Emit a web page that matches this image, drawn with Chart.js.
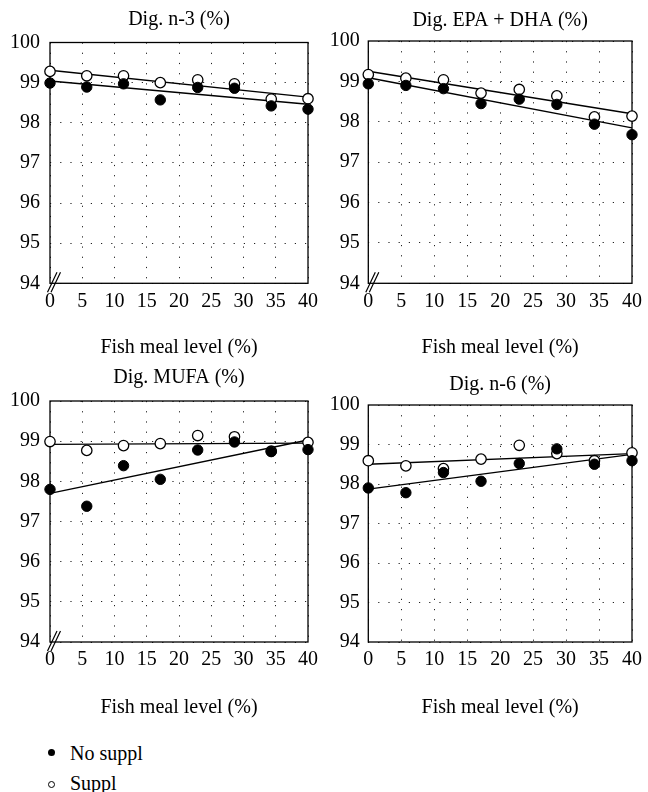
<!DOCTYPE html>
<html>
<head>
<meta charset="utf-8">
<script src="https://cdn.jsdelivr.net/npm/chart.js@4.4.1/dist/chart.umd.min.js"></script>
<style>
  html, body { margin: 0; padding: 0; background: #fff; }
  body { width: 648px; height: 792px; position: relative; overflow: hidden; font-family: 'Liberation Serif', serif; }
  .panel { position: absolute; }
  .lg-text { position: absolute; font-size: 20px; line-height: 24px; color: #000; white-space: nowrap; }
  .dot { position: absolute; width: 7px; height: 7px; border-radius: 50%; box-sizing: border-box; }
</style>
</head>
<body>
<div class="panel" id="p1" style="left:0px;top:0px;width:324px;height:360px;"><canvas id="c1"></canvas></div>
<div class="panel" id="p2" style="left:324px;top:0px;width:324px;height:360px;"><canvas id="c2"></canvas></div>
<div class="panel" id="p3" style="left:0px;top:360px;width:324px;height:360px;"><canvas id="c3"></canvas></div>
<div class="panel" id="p4" style="left:324px;top:360px;width:324px;height:360px;"><canvas id="c4"></canvas></div>

<span class="dot" style="left:48px;top:749px;background:#000;"></span>
<span class="lg-text" style="left:70px;top:741px;">No suppl</span>
<span class="dot" style="left:48px;top:780.5px;border:1px solid #000;background:#fff;"></span>
<span class="lg-text" style="left:70px;top:771px;">Suppl</span>

<script>
// ---- Data ----
const xLevels = [0, 5.7, 11.4, 17.1, 22.9, 28.6, 34.3, 40];
const fitX = [0, 40];

const panelTitles = ['Dig. n-3 (%)', 'Dig. EPA + DHA (%)', 'Dig. MUFA (%)', 'Dig. n-6 (%)'];
const xAxisTitle = 'Fish meal level (%)';
const seriesNames = ['No suppl', 'Suppl'];
const xTickValues = [0, 5, 10, 15, 20, 25, 30, 35, 40];
const yTickValues = [94, 95, 96, 97, 98, 99, 100];

const n3No   = [98.99, 98.89, 98.97, 98.57, 98.88, 98.86, 98.42, 98.34];
const n3Sup  = [99.28, 99.17, 99.17, 99.00, 99.07, 98.97, 98.59, 98.60];
const n3FitNo  = [99.04, 98.46];
const n3FitSup = [99.31, 98.64];

const epaNo  = [98.94, 98.90, 98.82, 98.45, 98.56, 98.43, 97.94, 97.68];
const epaSup = [99.17, 99.08, 99.04, 98.71, 98.80, 98.64, 98.12, 98.14];
const epaFitNo  = [99.09, 97.85];
const epaFitSup = [99.25, 98.20];

const mufaNo  = [97.80, 97.38, 98.39, 98.05, 98.78, 98.98, 98.74, 98.79];
const mufaSup = [98.99, 98.77, 98.89, 98.94, 99.14, 99.11, 98.75, 98.97];
const mufaFitNo  = [97.70, 99.03];
const mufaFitSup = [98.92, 98.95];

const n6No  = [97.90, 97.78, 98.29, 98.07, 98.52, 98.89, 98.50, 98.59];
const n6Sup = [98.59, 98.46, 98.39, 98.63, 98.98, 98.77, 98.59, 98.79];
const n6FitNo  = [97.87, 98.75];
const n6FitSup = [98.50, 98.77];

// ---- Setup ----
Chart.defaults.font.family = "'Liberation Serif', 'Times New Roman', serif";
Chart.defaults.font.size = 20;
Chart.defaults.color = '#000';

const toPts = (xs, ys) => xs.map((x, i) => ({ x: x, y: ys[i] }));

// box around plot area
const boxPlugin = {
  id: 'plotBox',
  beforeDatasetsDraw(chart) {
    const a = chart.chartArea, ctx = chart.ctx;
    ctx.save();
    ctx.strokeStyle = '#000';
    ctx.lineWidth = 1.3;
    ctx.setLineDash([]);
    ctx.strokeRect(a.left, a.top, a.right - a.left, a.bottom - a.top);
    ctx.restore();
  }
};
// axis break "//" marks at the bottom-left corner
const breakPlugin = {
  id: 'axisBreak',
  afterDraw(chart, args, opts) {
    if (!opts || !opts.show) return;
    const a = chart.chartArea, ctx = chart.ctx;
    const x0 = a.left, y0 = a.bottom;
    ctx.save();
    ctx.strokeStyle = '#000';
    ctx.lineWidth = 1.2;
    ctx.beginPath();
    ctx.moveTo(x0 - 2.5, y0 + 9); ctx.lineTo(x0 + 7, y0 - 11);
    ctx.moveTo(x0 + 1, y0 + 9); ctx.lineTo(x0 + 10.5, y0 - 11);
    ctx.stroke();
    ctx.restore();
  }
};

function makePanel(canvasId, cfg) {
  // Chart.js draws dataset 0 on top, so the filled series comes first
  const datasets = [
    { label: seriesNames[0], data: toPts(xLevels, cfg.no), showLine: false, pointRadius: 5.2, pointBackgroundColor: '#000', pointBorderColor: '#000', pointBorderWidth: 1, clip: false },
    { label: seriesNames[1], data: toPts(xLevels, cfg.sup), showLine: false, pointRadius: 5.2, pointBackgroundColor: '#fff', pointBorderColor: '#000', pointBorderWidth: 1.3, clip: false },
    { label: seriesNames[0] + ' fit', data: toPts(fitX, cfg.fitNo), showLine: true, borderColor: '#000', borderWidth: 1.4, pointRadius: 0, clip: false },
    { label: seriesNames[1] + ' fit', data: toPts(fitX, cfg.fitSup), showLine: true, borderColor: '#000', borderWidth: 1.4, pointRadius: 0, clip: false }
  ];
  return new Chart(document.getElementById(canvasId), {
    type: 'scatter',
    data: { datasets },
    options: {
      responsive: true,
      maintainAspectRatio: false,
      animation: false,
      events: [],
      layout: { padding: { left: 0, top: 0, right: cfg.padRight, bottom: 0 } },
      plugins: {
        legend: { display: false },
        tooltip: { enabled: false },
        title: {
          display: true,
          text: cfg.title,
          fullSize: false,
          font: { size: 20, weight: 'normal' },
          color: '#000',
          padding: { top: cfg.titleTop, bottom: cfg.titleBottom }
        },
        axisBreak: { show: cfg.showBreak }
      },
      scales: {
        x: {
          type: 'linear',
          min: 0, max: 40,
          afterBuildTicks: (s) => { s.ticks = xTickValues.map(v => ({ value: v })); },
          ticks: { padding: 6, maxRotation: 0, autoSkip: false, color: '#000', font: { size: 20 } },
          grid: { drawTicks: false, color: '#222', lineWidth: 1 },
          border: { display: false, dash: [1.2, 9] },
          title: { display: true, text: xAxisTitle, color: '#000', font: { size: 20 }, padding: { top: 0, bottom: 0 } },
          afterFit: (s) => { s.height = cfg.xH; }
        },
        y: {
          type: 'linear',
          min: 94, max: 100,
          afterBuildTicks: (s) => { s.ticks = yTickValues.map(v => ({ value: v })); },
          ticks: { padding: cfg.yPad, color: '#000', font: { size: 20 } },
          grid: { drawTicks: false, color: '#222', lineWidth: 1 },
          border: { display: false, dash: [1.2, 9] },
          afterFit: (s) => { s.width = cfg.yW; }
        }
      }
    },
    plugins: [boxPlugin, breakPlugin]
  });
}

makePanel('c1', { title: panelTitles[0], no: n3No, sup: n3Sup, fitNo: n3FitNo, fitSup: n3FitSup,
  yW: 50, padRight: 16, titleTop: 7.8, titleBottom: 10.7, xH: 76.7, yPad: 10, showBreak: true });
makePanel('c2', { title: panelTitles[1], no: epaNo, sup: epaSup, fitNo: epaFitNo, fitSup: epaFitSup,
  yW: 44.3, padRight: 11.5, titleTop: 8.4, titleBottom: 8.6, xH: 76.7, yPad: 8.5, showBreak: true });
makePanel('c3', { title: panelTitles[2], no: mufaNo, sup: mufaSup, fitNo: mufaFitNo, fitSup: mufaFitSup,
  yW: 50, padRight: 16, titleTop: 6.1, titleBottom: 10.9, xH: 78, yPad: 10, showBreak: true });
makePanel('c4', { title: panelTitles[3], no: n6No, sup: n6Sup, fitNo: n6FitNo, fitSup: n6FitSup,
  yW: 44.3, padRight: 11.5, titleTop: 12.7, titleBottom: 8.3, xH: 78, yPad: 8.5, showBreak: false });
</script>
</body>
</html>
